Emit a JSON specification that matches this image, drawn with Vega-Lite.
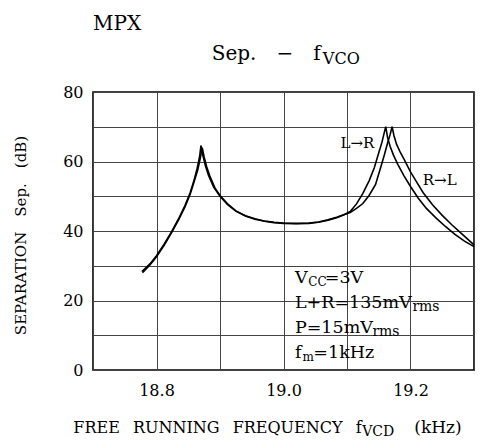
{
  "$schema": "https://vega.github.io/schema/vega-lite/v6.json",
  "width": 381,
  "height": 278,
  "autosize": {"type": "none"},
  "padding": {"left": 93, "top": 92, "right": 12, "bottom": 74},
  "background": "white",
  "config": {
    "font": "DejaVu Serif",
    "view": {"stroke": "black", "strokeWidth": 1.6},
    "text": {"color": "black", "font": "DejaVu Serif"}
  },
  "datasets": {
    "curves": [
      {"s": "L→R", "x": 18.777, "y": 28.3},
      {"s": "L→R", "x": 18.79, "y": 30.6},
      {"s": "L→R", "x": 18.8, "y": 32.9},
      {"s": "L→R", "x": 18.812, "y": 36.2},
      {"s": "L→R", "x": 18.824, "y": 39.9},
      {"s": "L→R", "x": 18.835, "y": 43.6},
      {"s": "L→R", "x": 18.845, "y": 47.4},
      {"s": "L→R", "x": 18.853, "y": 51.0},
      {"s": "L→R", "x": 18.859, "y": 54.5},
      {"s": "L→R", "x": 18.864, "y": 58.0},
      {"s": "L→R", "x": 18.868, "y": 61.5},
      {"s": "L→R", "x": 18.870, "y": 64.6},
      {"s": "L→R", "x": 18.873, "y": 61.8},
      {"s": "L→R", "x": 18.877, "y": 58.8},
      {"s": "L→R", "x": 18.882, "y": 56.0},
      {"s": "L→R", "x": 18.89, "y": 52.6},
      {"s": "L→R", "x": 18.9, "y": 50.0},
      {"s": "L→R", "x": 18.912, "y": 47.6},
      {"s": "L→R", "x": 18.925, "y": 45.7},
      {"s": "L→R", "x": 18.94, "y": 44.3},
      {"s": "L→R", "x": 18.955, "y": 43.4},
      {"s": "L→R", "x": 18.97, "y": 42.8},
      {"s": "L→R", "x": 18.985, "y": 42.4},
      {"s": "L→R", "x": 19.0, "y": 42.2},
      {"s": "L→R", "x": 19.02, "y": 42.1},
      {"s": "L→R", "x": 19.04, "y": 42.2},
      {"s": "L→R", "x": 19.055, "y": 42.5},
      {"s": "L→R", "x": 19.07, "y": 43.1},
      {"s": "L→R", "x": 19.085, "y": 43.9},
      {"s": "L→R", "x": 19.097, "y": 44.8},
      {"s": "L→R", "x": 19.105, "y": 45.6},
      {"s": "L→R", "x": 19.115, "y": 47.8},
      {"s": "L→R", "x": 19.125, "y": 50.8},
      {"s": "L→R", "x": 19.135, "y": 54.5},
      {"s": "L→R", "x": 19.143, "y": 58.2},
      {"s": "L→R", "x": 19.15, "y": 62.5},
      {"s": "L→R", "x": 19.155, "y": 65.5},
      {"s": "L→R", "x": 19.158, "y": 67.8},
      {"s": "L→R", "x": 19.161, "y": 70.0},
      {"s": "L→R", "x": 19.164, "y": 66.8},
      {"s": "L→R", "x": 19.168, "y": 64.3},
      {"s": "L→R", "x": 19.173, "y": 61.9},
      {"s": "L→R", "x": 19.18, "y": 59.2},
      {"s": "L→R", "x": 19.19, "y": 55.8},
      {"s": "L→R", "x": 19.2, "y": 52.8},
      {"s": "L→R", "x": 19.212, "y": 49.5},
      {"s": "L→R", "x": 19.225, "y": 46.5},
      {"s": "L→R", "x": 19.24, "y": 43.8},
      {"s": "L→R", "x": 19.255, "y": 41.3},
      {"s": "L→R", "x": 19.27, "y": 39.0},
      {"s": "L→R", "x": 19.285, "y": 37.1},
      {"s": "L→R", "x": 19.3, "y": 35.5},
      {"s": "R→L", "x": 18.778, "y": 28.0},
      {"s": "R→L", "x": 18.79, "y": 30.3},
      {"s": "R→L", "x": 18.8, "y": 32.6},
      {"s": "R→L", "x": 18.812, "y": 35.9},
      {"s": "R→L", "x": 18.824, "y": 39.6},
      {"s": "R→L", "x": 18.835, "y": 43.3},
      {"s": "R→L", "x": 18.845, "y": 47.0},
      {"s": "R→L", "x": 18.853, "y": 50.6},
      {"s": "R→L", "x": 18.859, "y": 54.0},
      {"s": "R→L", "x": 18.865, "y": 57.6},
      {"s": "R→L", "x": 18.869, "y": 61.0},
      {"s": "R→L", "x": 18.872, "y": 64.0},
      {"s": "R→L", "x": 18.875, "y": 61.3},
      {"s": "R→L", "x": 18.879, "y": 58.5},
      {"s": "R→L", "x": 18.884, "y": 55.8},
      {"s": "R→L", "x": 18.892, "y": 52.4},
      {"s": "R→L", "x": 18.9, "y": 50.2},
      {"s": "R→L", "x": 18.912, "y": 47.8},
      {"s": "R→L", "x": 18.925, "y": 45.8},
      {"s": "R→L", "x": 18.94, "y": 44.4},
      {"s": "R→L", "x": 18.955, "y": 43.5},
      {"s": "R→L", "x": 18.97, "y": 42.9},
      {"s": "R→L", "x": 18.985, "y": 42.5},
      {"s": "R→L", "x": 19.0, "y": 42.3},
      {"s": "R→L", "x": 19.02, "y": 42.2},
      {"s": "R→L", "x": 19.04, "y": 42.3},
      {"s": "R→L", "x": 19.055, "y": 42.6},
      {"s": "R→L", "x": 19.07, "y": 43.2},
      {"s": "R→L", "x": 19.085, "y": 44.0},
      {"s": "R→L", "x": 19.097, "y": 44.8},
      {"s": "R→L", "x": 19.105, "y": 45.3},
      {"s": "R→L", "x": 19.115, "y": 46.5},
      {"s": "R→L", "x": 19.125, "y": 47.9},
      {"s": "R→L", "x": 19.135, "y": 50.3},
      {"s": "R→L", "x": 19.145, "y": 53.4},
      {"s": "R→L", "x": 19.153, "y": 58.3},
      {"s": "R→L", "x": 19.159, "y": 62.0},
      {"s": "R→L", "x": 19.164, "y": 65.4},
      {"s": "R→L", "x": 19.168, "y": 67.8},
      {"s": "R→L", "x": 19.171, "y": 70.0},
      {"s": "R→L", "x": 19.174, "y": 67.4},
      {"s": "R→L", "x": 19.178, "y": 65.0},
      {"s": "R→L", "x": 19.184, "y": 62.6},
      {"s": "R→L", "x": 19.19, "y": 60.6},
      {"s": "R→L", "x": 19.2, "y": 57.0},
      {"s": "R→L", "x": 19.21, "y": 54.0},
      {"s": "R→L", "x": 19.22, "y": 51.0},
      {"s": "R→L", "x": 19.235, "y": 47.5},
      {"s": "R→L", "x": 19.25, "y": 44.5},
      {"s": "R→L", "x": 19.265, "y": 41.8},
      {"s": "R→L", "x": 19.28, "y": 39.3},
      {"s": "R→L", "x": 19.3, "y": 36.0}
    ],
    "notes": [
      {"k": "big", "t": "MPX", "x": 18.700, "y": 99.6},
      {"k": "big", "t": "Sep.\u2002\u2002\u2212\u2002\u2002f", "x": 18.887, "y": 90.9},
      {"k": "bigsub", "t": "VCO", "x": 19.062, "y": 89.4},
      {"k": "axis", "t": "FREE\u2002 RUNNING\u2002 FREQUENCY\u2002 f", "x": 18.669, "y": -16.7},
      {"k": "axissub", "t": "VCD", "x": 19.124, "y": -17.9},
      {"k": "axisk", "t": "(kHz)", "x": 19.206, "y": -16.7},
      {"k": "box", "t": "V", "x": 19.018, "y": 26.5},
      {"k": "boxsub", "t": "CC", "x": 19.039, "y": 25.2},
      {"k": "box", "t": "=3V", "x": 19.065, "y": 26.5},
      {"k": "box", "t": "L+R=135mV", "x": 19.018, "y": 19.3},
      {"k": "boxsub2", "t": "rms", "x": 19.203, "y": 18.0},
      {"k": "box", "t": "P=15mV", "x": 19.018, "y": 12.1},
      {"k": "boxsub2", "t": "rms", "x": 19.140, "y": 10.8},
      {"k": "box", "t": "f", "x": 19.018, "y": 4.9},
      {"k": "boxsub", "t": "m", "x": 19.030, "y": 3.7},
      {"k": "box", "t": "=1kHz", "x": 19.047, "y": 4.9},
      {"k": "lab", "t": "L→R", "x": 19.1165, "y": 65.3},
      {"k": "lab", "t": "R→L", "x": 19.246, "y": 54.7}
    ]
  },
  "encoding": {
    "x": {
      "field": "x",
      "type": "quantitative",
      "scale": {"domain": [18.7, 19.3], "nice": false, "zero": false},
      "axis": {
        "values": [18.7, 18.8, 18.9, 19.0, 19.1, 19.2, 19.3],
        "labelExpr": "(abs(datum.value-18.8)<0.001||abs(datum.value-19.0)<0.001||abs(datum.value-19.2)<0.001) ? format(datum.value,'.1f') : ''",
        "grid": true,
        "gridColor": "#444",
        "gridWidth": 1,
        "domain": false,
        "ticks": false,
        "labelFont": "DejaVu Serif",
        "labelFontSize": 16,
        "labelColor": "black",
        "labelPadding": 12,
        "labelOverlap": false,
        "labelFlush": false,
        "title": null
      }
    },
    "y": {
      "field": "y",
      "type": "quantitative",
      "scale": {"domain": [0, 80], "nice": false},
      "axis": {
        "values": [0, 10, 20, 30, 40, 50, 60, 70, 80],
        "labelExpr": "datum.value % 20 == 0 ? datum.value : ''",
        "grid": true,
        "gridColor": "#444",
        "gridWidth": 1,
        "domain": false,
        "ticks": false,
        "labelFont": "DejaVu Serif",
        "labelFontSize": 16,
        "labelColor": "black",
        "labelPadding": 10,
        "labelOverlap": false,
        "labelFlush": false,
        "title": "SEPARATION\u2002\u2002Sep.\u2002\u2002(dB)",
        "titleFont": "DejaVu Serif",
        "titleFontSize": 15,
        "titleFontWeight": "normal",
        "titleColor": "black",
        "titleX": -73,
        "titleY": 143,
        "titleAngle": -90,
        "titleAlign": "center",
        "titleBaseline": "middle"
      }
    }
  },
  "layer": [
    {
      "data": {"values": [{}]},
      "mark": {"type": "rect", "fill": "white", "stroke": "black", "strokeWidth": 1.3},
      "encoding": {
        "x": {"datum": 19.0, "type": "quantitative"},
        "x2": {"datum": 19.3},
        "y": {"datum": 0, "type": "quantitative"},
        "y2": {"datum": 30}
      }
    },
    {
      "data": {"name": "curves"},
      "mark": {"type": "line", "color": "black", "strokeWidth": 1.6},
      "encoding": {"detail": {"field": "s"}}
    },
    {
      "data": {"name": "notes"},
      "transform": [{"filter": "datum.k == 'big'"}],
      "mark": {"type": "text", "fontSize": 20, "align": "left", "baseline": "middle"},
      "encoding": {"text": {"field": "t"}}
    },
    {
      "data": {"name": "notes"},
      "transform": [{"filter": "datum.k == 'bigsub'"}],
      "mark": {"type": "text", "fontSize": 16, "align": "left", "baseline": "middle"},
      "encoding": {"text": {"field": "t"}}
    },
    {
      "data": {"name": "notes"},
      "transform": [{"filter": "datum.k == 'axis'"}],
      "mark": {"type": "text", "fontSize": 16, "align": "left", "baseline": "middle"},
      "encoding": {"text": {"field": "t"}}
    },
    {
      "data": {"name": "notes"},
      "transform": [{"filter": "datum.k == 'axisk'"}],
      "mark": {"type": "text", "fontSize": 17, "align": "left", "baseline": "middle"},
      "encoding": {"text": {"field": "t"}}
    },
    {
      "data": {"name": "notes"},
      "transform": [{"filter": "datum.k == 'axissub'"}],
      "mark": {"type": "text", "fontSize": 14, "align": "left", "baseline": "middle"},
      "encoding": {"text": {"field": "t"}}
    },
    {
      "data": {"name": "notes"},
      "transform": [{"filter": "datum.k == 'box'"}],
      "mark": {"type": "text", "fontSize": 17.5, "align": "left", "baseline": "middle"},
      "encoding": {"text": {"field": "t"}}
    },
    {
      "data": {"name": "notes"},
      "transform": [{"filter": "datum.k == 'boxsub'"}],
      "mark": {"type": "text", "fontSize": 12, "align": "left", "baseline": "middle"},
      "encoding": {"text": {"field": "t"}}
    },
    {
      "data": {"name": "notes"},
      "transform": [{"filter": "datum.k == 'boxsub2'"}],
      "mark": {"type": "text", "fontSize": 14, "align": "left", "baseline": "middle"},
      "encoding": {"text": {"field": "t"}}
    },
    {
      "data": {"name": "notes"},
      "transform": [{"filter": "datum.k == 'lab'"}],
      "mark": {"type": "text", "fontSize": 15, "align": "center", "baseline": "middle"},
      "encoding": {"text": {"field": "t"}}
    }
  ]
}
